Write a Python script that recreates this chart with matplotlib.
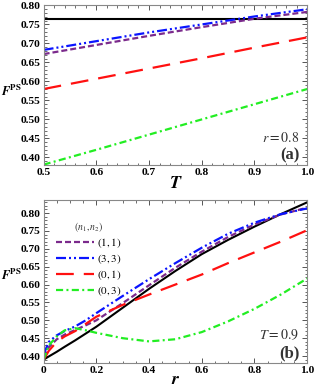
import numpy as np
import matplotlib
matplotlib.use("Agg")
import matplotlib.pyplot as plt
from matplotlib.ticker import MultipleLocator

plt.rcParams['font.family'] = 'Liberation Serif'
plt.rcParams['mathtext.fontset'] = 'stix'

# panel (a): r = 0.8, fidelity vs T
T_vals = [0.5, 0.6, 0.7, 0.8, 0.9, 1.0]
fa_classical = 0.765
fa_11 = [0.672, 0.696, 0.720, 0.743, 0.765, 0.783]
fa_33 = [0.683, 0.706, 0.729, 0.750, 0.771, 0.790]
fa_01 = [0.580, 0.607, 0.634, 0.661, 0.689, 0.716]
fa_03 = [0.381, 0.420, 0.460, 0.500, 0.540, 0.580]

# panel (b): T = 0.9, fidelity vs r
r_vals = [0.0, 0.02, 0.05, 0.08, 0.12, 0.16, 0.2, 0.3, 0.4, 0.5, 0.6, 0.7, 0.8, 0.9, 1.0]
fb_classical = [0.390, 0.399, 0.412, 0.426, 0.444, 0.463, 0.482, 0.535, 0.588, 0.638, 0.685, 0.725, 0.762, 0.797, 0.830]
fb_11 = [0.398, 0.425, 0.447, 0.460, 0.473, 0.486, 0.500, 0.548, 0.598, 0.647, 0.692, 0.733, 0.768, 0.796, 0.815]
fb_33 = [0.405, 0.440, 0.458, 0.470, 0.483, 0.500, 0.520, 0.568, 0.615, 0.660, 0.703, 0.742, 0.773, 0.797, 0.813]
fb_01 = [0.390, 0.415, 0.440, 0.455, 0.470, 0.490, 0.510, 0.543, 0.572, 0.600, 0.628, 0.660, 0.690, 0.720, 0.752]
fb_03 = [0.390, 0.430, 0.455, 0.472, 0.478, 0.472, 0.465, 0.450, 0.441, 0.447, 0.467, 0.497, 0.532, 0.572, 0.617]

labels = ['$(1,1)$', '$(3,3)$', '$(0,1)$', '$(0,3)$']
colors = ['#7b2a8c', '#0a14ff', '#ff1010', '#22ee22']
styles = [(0, (2.7, 1.35)), (0, (4.5, 1.35, 0.9, 1.35, 0.9, 1.35)), (0, (8, 4.5)), (0, (3.2, 1.5, 0.9, 1.5))]

fig = plt.figure(figsize=(3.16, 3.91), dpi=100)
pos1 = [0.138, 0.578, 0.834, 0.409]
pos2 = [0.138, 0.072, 0.834, 0.416]
ax1 = fig.add_axes(pos1)
ax2 = fig.add_axes(pos2)


def style_axes(ax, xmajor, xminor):
    ax.xaxis.set_major_locator(MultipleLocator(xmajor))
    ax.xaxis.set_minor_locator(MultipleLocator(xminor))
    ax.yaxis.set_major_locator(MultipleLocator(0.05))
    ax.yaxis.set_minor_locator(MultipleLocator(0.01))
    ax.tick_params(which='both', direction='in', top=True, right=True, color='#555555')
    ax.tick_params(which='major', length=3.5, width=0.7, labelsize=8.2, pad=2.5)
    ax.tick_params(which='minor', length=1.8, width=0.6)
    for s in ax.spines.values():
        s.set_color('#888888')
        s.set_linewidth(0.8)
    for lab in ax.get_xticklabels() + ax.get_yticklabels():
        lab.set_fontweight('bold')


# (a)
ax1.axhline(fa_classical, color='black', lw=1.5)
for ys, c, ls in zip([fa_11, fa_33, fa_01, fa_03], colors, styles):
    ax1.plot(T_vals, ys, color=c, ls=ls, lw=1.6)
ax1.set_xlim(0.5, 1.0)
ax1.set_ylim(0.38, 0.801)
style_axes(ax1, 0.1, 0.02)
ax1.set_xticks([0.5, 0.6, 0.7, 0.8, 0.9, 1.0])
ax1.set_xticklabels(['0.5', '0.6', '0.7', '0.8', '0.9', '1.0'], fontweight='bold')
ax1.set_xlabel(r'$\mathbfit{T}$', fontsize=13, labelpad=-2)
ax1.text(0.97, 0.17, '$r = 0.8$', transform=ax1.transAxes, ha='right', va='center', fontsize=10, color='#333333')
ax1.text(0.97, 0.06, '(a)', transform=ax1.transAxes, ha='right', va='center', fontsize=12, fontweight='bold', color='#333333')

# (b)
ax2.plot(r_vals, fb_classical, color='black', lw=1.5)
for ys, c, ls, lab in zip([fb_11, fb_33, fb_01, fb_03], colors, styles, labels):
    ax2.plot(r_vals, ys, color=c, ls=ls, lw=1.6, label=lab)
ax2.set_xlim(0.0, 1.0)
ax2.set_ylim(0.381, 0.836)
style_axes(ax2, 0.2, 0.05)
ax2.set_xticks([0.0, 0.2, 0.4, 0.6, 0.8, 1.0])
ax2.set_xticklabels(['0', '0.2', '0.4', '0.6', '0.8', '1.0'], fontweight='bold')
ax2.set_xlabel(r'$\mathbfit{r}$', fontsize=13, labelpad=-3)
leg = ax2.legend(title='$(n_1, n_2)$', loc='upper left', bbox_to_anchor=(0.02, 0.92),
                 frameon=False, fontsize=8, title_fontsize=7, handlelength=3.5,
                 handletextpad=0.2, labelspacing=0.2, borderpad=0.1)
leg.get_title().set_color('#333333')
ax2.text(0.97, 0.17, '$T = 0.9$', transform=ax2.transAxes, ha='right', va='center', fontsize=10, color='#333333')
ax2.text(0.97, 0.06, '(b)', transform=ax2.transAxes, ha='right', va='center', fontsize=12, fontweight='bold', color='#333333')

# y labels at the left edge of the figure, between tick labels
fig.text(0.004, pos1[1] + pos1[3] * 0.434, r'$\mathbfit{F}^{\mathbf{PS}}$', ha='left', va='baseline', fontsize=9)
fig.text(0.004, pos2[1] + pos2[3] * 0.512, r'$\mathbfit{F}^{\mathbf{PS}}$', ha='left', va='baseline', fontsize=9)

fig.savefig('out.png', dpi=100)
